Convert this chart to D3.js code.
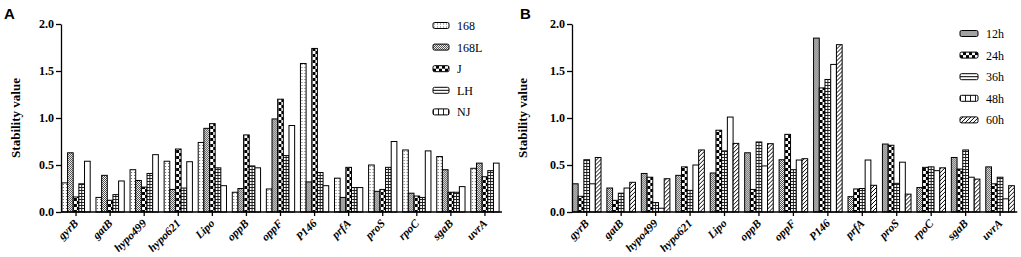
<!DOCTYPE html>
<html>
<head>
<meta charset="utf-8">
<script src="https://cdn.jsdelivr.net/npm/d3@7"></script>
<style>
  body { margin: 0; background: #fff; }
  svg text { font-family: "Liberation Serif", "Times New Roman", serif; }
  svg text.letter { font-family: "Liberation Sans", Arial, sans-serif; }
</style>
</head>
<body>
<div id="chart"></div>
<script>
const genes = ['gyrB', 'gatB', 'hypo499', 'hypo621', 'Lipo', 'oppB', 'oppF', 'P146', 'prfA', 'proS', 'rpoC', 'sgaB', 'uvrA'];
const yTicks = [0, 0.5, 1.0, 1.5, 2.0];

// panel A strains
const seriesA = ['168', '168L', 'J', 'LH', 'NJ'];
const a168  = [0.31, 0.155, 0.45, 0.54, 0.74, 0.21, 0.245, 1.58, 0.36, 0.50, 0.66, 0.59, 0.465];
const a168L = [0.63, 0.39, 0.335, 0.24, 0.89, 0.25, 0.99, 0.32, 0.155, 0.22, 0.20, 0.45, 0.52];
const aJ    = [0.16, 0.125, 0.265, 0.67, 0.94, 0.82, 1.20, 1.74, 0.475, 0.24, 0.17, 0.21, 0.375];
const aLH   = [0.30, 0.185, 0.41, 0.255, 0.47, 0.49, 0.60, 0.42, 0.26, 0.475, 0.155, 0.21, 0.44];
const aNJ   = [0.54, 0.33, 0.61, 0.535, 0.28, 0.47, 0.92, 0.28, 0.26, 0.75, 0.65, 0.27, 0.52];

// panel B time points
const seriesB = ['12h', '24h', '36h', '48h', '60h'];
const b12h = [0.30, 0.255, 0.41, 0.39, 0.415, 0.63, 0.556, 1.85, 0.163, 0.723, 0.26, 0.58, 0.48];
const b24h = [0.167, 0.124, 0.37, 0.48, 0.87, 0.24, 0.826, 1.32, 0.245, 0.71, 0.475, 0.457, 0.30];
const b36h = [0.556, 0.20, 0.10, 0.23, 0.65, 0.745, 0.45, 1.41, 0.25, 0.305, 0.48, 0.66, 0.37];
const b48h = [0.30, 0.255, 0.04, 0.50, 1.01, 0.49, 0.553, 1.57, 0.553, 0.53, 0.44, 0.37, 0.14];
const b60h = [0.58, 0.316, 0.354, 0.66, 0.73, 0.727, 0.567, 1.78, 0.284, 0.19, 0.47, 0.35, 0.28];

const W = 1021, H = 257;
const SERIF = 'Liberation Serif';
const svg = d3.select('#chart').append('svg')
  .attr('width', W).attr('height', H)
  .attr('viewBox', [0, 0, W, H]);

const defs = svg.append('defs');

function pat(id, w, h) {
  const p = defs.append('pattern').attr('id', id)
    .attr('patternUnits', 'userSpaceOnUse').attr('width', w).attr('height', h);
  p.append('rect').attr('width', w).attr('height', h).attr('fill', '#fff');
  return p;
}
// sparse dots
const pDots = pat('p-dots', 3, 3);
pDots.append('rect').attr('x', 1).attr('y', 1).attr('width', 1).attr('height', 1).attr('fill', '#666');
// fine checker
const pFine = pat('p-fine', 2, 2);
pFine.append('rect').attr('width', 1).attr('height', 1).attr('fill', '#444');
pFine.append('rect').attr('x', 1).attr('y', 1).attr('width', 1).attr('height', 1).attr('fill', '#444');
// big checker
const pCheck = pat('p-check', 6, 6);
pCheck.append('rect').attr('width', 3).attr('height', 3).attr('fill', '#000');
pCheck.append('rect').attr('x', 3).attr('y', 3).attr('width', 3).attr('height', 3).attr('fill', '#000');
// horizontal stripes
const pH = pat('p-h', 4, 3);
pH.append('rect').attr('y', 1).attr('width', 4).attr('height', 1).attr('fill', '#222');
// plain
pat('p-plain', 4, 4);
pat('p-h1', 4, 4);
// vertical lines (legend of the plain series)
const pV = pat('p-v', 5, 6);
pV.append('rect').attr('x', 0).attr('width', 1).attr('height', 6).attr('fill', '#222');
// diagonal
const pD = pat('p-diag', 4, 4);
pD.append('path').attr('d', 'M0,4L4,0M-1,1L1,-1M3,5L5,3')
  .attr('stroke', '#000').attr('stroke-width', 1);

const y = d3.scaleLinear().domain([0, 2]).range([212, 24]);

function drawPanel(opt) {
  const g = svg.append('g');
  const x = d3.scaleBand().domain(genes).range(opt.xr).paddingInner(0.17).paddingOuter(0.085);
  const sub = d3.scaleBand().domain(opt.series).range([0, x.bandwidth()]);

  const rows = genes.map((gene, i) => ({
    gene,
    vals: opt.series.map((s, j) => ({ s, j, v: opt.data[j][i] }))
  }));

  const grp = g.selectAll('g.grp').data(rows).join('g')
    .attr('transform', d => `translate(${x(d.gene)},0)`);

  grp.selectAll('rect').data(d => d.vals).join('rect')
    .attr('x', d => sub(d.s))
    .attr('y', d => y(d.v))
    .attr('width', sub.bandwidth())
    .attr('height', d => y(0) - y(d.v))
    .attr('fill', d => `url(#${opt.fills[d.j]})`)
    .attr('stroke', '#000')
    .attr('stroke-width', 1);

  // centre rule of the striped series
  grp.selectAll('line.mid').data(d => d.vals.filter(v => opt.fills[v.j] === 'p-h')).join('line')
    .attr('class', 'mid')
    .attr('x1', d => sub(d.s) + sub.bandwidth() / 2)
    .attr('x2', d => sub(d.s) + sub.bandwidth() / 2)
    .attr('y1', d => y(d.v)).attr('y2', y(0))
    .attr('stroke', '#222').attr('stroke-width', 1);

  // y axis
  const ya = g.append('g').attr('transform', `translate(${opt.ax},0)`)
    .call(d3.axisLeft(y).tickValues(yTicks).tickFormat(d3.format('.1f')).tickSize(5).tickSizeOuter(0))
    .attr('font-family', SERIF);
  ya.select('.domain').attr('stroke-width', 1.3);
  ya.selectAll('.tick line').attr('stroke-width', 1.3);
  ya.selectAll('text')
    .attr('font-size', 12).attr('font-weight', 'bold').attr('x', -7);

  // x axis
  const xa = g.append('g').attr('transform', `translate(0,${y(0)})`)
    .call(d3.axisBottom(x).tickSize(4).tickSizeOuter(0))
    .attr('font-family', SERIF);
  xa.select('.domain').remove();
  xa.append('line').attr('x1', opt.ax).attr('x2', opt.xr[1]).attr('stroke', '#000').attr('stroke-width', 1.3);
  xa.selectAll('.tick line').attr('stroke-width', 1.3);
  xa.selectAll('text')
    .attr('font-size', 11.5).attr('font-weight', 'bold').attr('font-style', 'italic')
    .attr('x', 0).attr('y', 0).attr('dy', 0)
    .attr('transform', 'translate(3,12) rotate(-45)')
    .attr('text-anchor', 'end');

  // axis title
  g.append('text')
    .attr('transform', `translate(${opt.titleX},118) rotate(-90)`)
    .attr('text-anchor', 'middle')
    .attr('font-family', SERIF)
    .attr('font-size', 13).attr('font-weight', 'bold')
    .text('Stability value');

  // panel letter
  g.append('text').attr('class', 'letter').attr('x', opt.letterX).attr('y', 19)
    .attr('font-size', 15).attr('font-weight', 'bold')
    .text(opt.letter);

  // legend
  const lg = g.append('g').attr('transform', `translate(${opt.lx},${opt.ly})`);
  opt.series.forEach((s, i) => {
    const it = lg.append('g').attr('transform', `translate(0,${i * 21.6})`);
    const f = opt.legFills[i];
    it.append('rect').attr('x', 0).attr('y', -3).attr('width', opt.lw).attr('height', 6)
      .attr('rx', 1.5)
      .attr('fill', `url(#${f})`).attr('stroke', '#000').attr('stroke-width', 1);
    if (f === 'p-h1') {
      it.append('line').attr('x1', 0).attr('x2', opt.lw).attr('y1', 0).attr('y2', 0).attr('stroke', '#000');
    }
    it.append('text').attr('x', opt.lw + 8).attr('y', 4.5)
      .attr('font-family', SERIF).attr('font-size', 12).attr('fill', '#000').text(s);
  });
}

drawPanel({
  letter: 'A', letterX: 4, titleX: 20,
  xr: [59, 502], ax: 61,
  series: seriesA, data: [a168, a168L, aJ, aLH, aNJ],
  fills: ['p-dots', 'p-fine', 'p-check', 'p-h', 'p-plain'],
  legFills: ['p-dots', 'p-fine', 'p-check', 'p-h1', 'p-v'],
  lx: 433, ly: 25.5, lw: 16
});

drawPanel({
  letter: 'B', letterX: 520, titleX: 527,
  xr: [569.5, 1017.3], ax: 572,
  series: seriesB, data: [b12h, b24h, b36h, b48h, b60h],
  fills: ['p-fine', 'p-check', 'p-h', 'p-plain', 'p-diag'],
  legFills: ['p-fine', 'p-check', 'p-h1', 'p-v', 'p-diag'],
  lx: 960, ly: 33.5, lw: 18
});
</script>
</body>
</html>
